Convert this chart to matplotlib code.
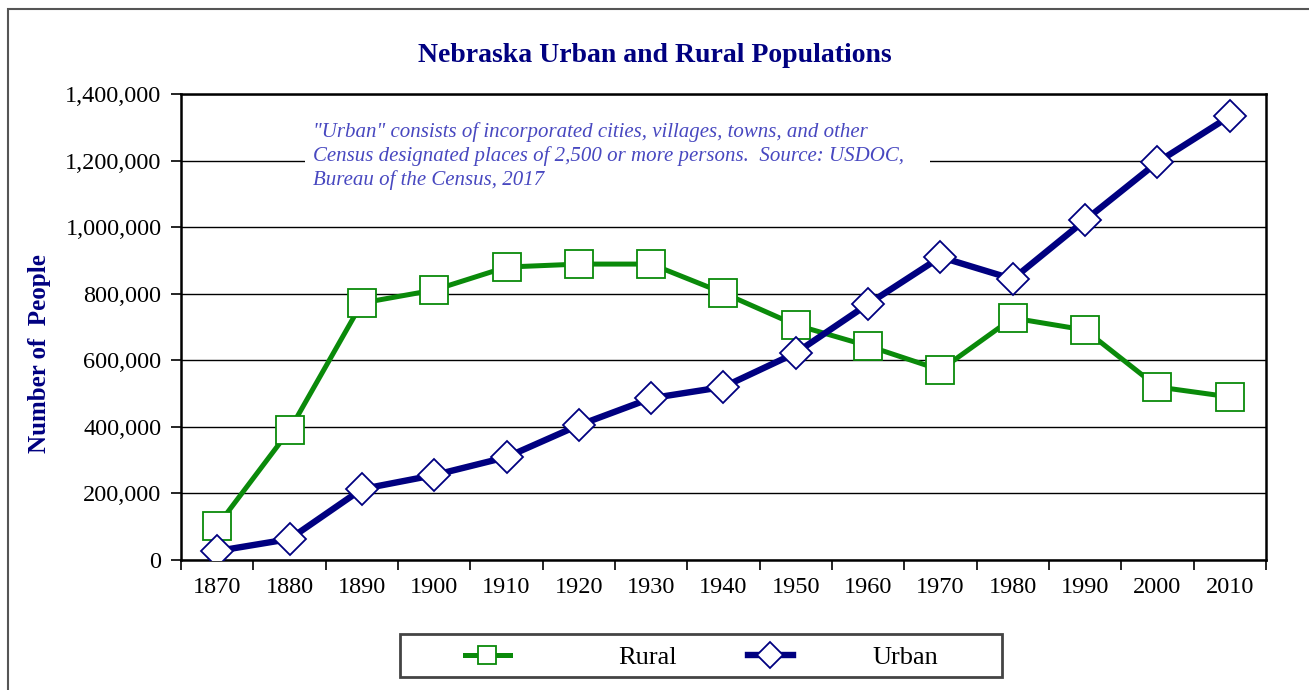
import numpy as np
import matplotlib.pyplot as plt
from matplotlib.patches import Rectangle

# Nebraska population by census year
years = ['1870', '1880', '1890', '1900', '1910', '1920', '1930', '1940',
         '1950', '1960', '1970', '1980', '1990', '2000', '2010']
rural = [102000, 390000, 772000, 811000, 880000, 889000, 889000, 802000,
         706000, 643000, 571000, 727000, 691000, 520000, 490000]
urban = [27000, 63000, 213000, 255000, 309000, 405000, 486000, 520000,
         622000, 769000, 910000, 844000, 1021000, 1195000, 1333000]
y_ticks = [0, 200000, 400000, 600000, 800000, 1000000, 1200000, 1400000]

note = ('"Urban" consists of incorporated cities, villages, towns, and other\n'
        'Census designated places of 2,500 or more persons.  Source: USDOC,\n'
        'Bureau of the Census, 2017')

GREEN = '#0a8a0a'
NAVY = '#000080'

plt.rcParams['font.family'] = ['Liberation Serif', 'DejaVu Serif']

fig = plt.figure(figsize=(13.09, 6.9), dpi=100)
ax = fig.add_axes([0.1383, 0.1884, 0.8288, 0.6754])

x = np.arange(len(years))

# outer frame of the page (runs off the right and bottom edges)
fig.patches.append(Rectangle((8 / 1309, -0.2), 1.2, 1.2 - 9 / 690,
                             transform=fig.transFigure, fill=False,
                             edgecolor='#555555', linewidth=1.5))

l_rural, = ax.plot(x, rural, color=GREEN, linewidth=3.6, marker='s', markersize=19.5,
                   markerfacecolor='white', markeredgecolor=GREEN, markeredgewidth=1.3,
                   label='Rural', zorder=4)
l_urban, = ax.plot(x, urban, color=NAVY, linewidth=4.6, marker='D', markersize=16.5,
                   markerfacecolor='white', markeredgecolor=NAVY, markeredgewidth=1.3,
                   label='Urban', zorder=5)

ax.set_xlim(-0.5, len(years) - 0.5)
ax.set_ylim(0, 1400000)
ax.set_yticks(y_ticks)
ax.set_yticklabels(['{:,}'.format(v) for v in y_ticks], fontsize=17.5)
ax.set_xticks(x)
ax.set_xticklabels(years, fontsize=17.5)
ax.set_xticks(np.arange(len(years) + 1) - 0.5, minor=True)
ax.tick_params(axis='x', which='major', length=0, pad=12)
ax.tick_params(axis='x', which='minor', length=7, width=1.2, direction='out')
ax.tick_params(axis='y', length=7, width=1.2, direction='out', pad=7)

ax.yaxis.grid(True, color='black', linewidth=1.0)
ax.set_axisbelow(True)
for s in ax.spines.values():
    s.set_linewidth(1.8)
    s.set_color('black')

# note box hides part of the 1,200,000 gridline
ax.add_patch(Rectangle((0.1143, 0.79), 0.576, 0.155, transform=ax.transAxes,
                       facecolor='white', edgecolor='none', zorder=2))
ax.text(0.1217, 0.94, note, transform=ax.transAxes, ha='left', va='top',
        fontsize=15, style='italic', color='#4848c0', linespacing=1.28,
        zorder=3)

fig.text(655 / 1309, 1 - 56 / 690, 'Nebraska Urban and Rural Populations',
         ha='center', va='center', fontsize=20, fontweight='bold', color=NAVY)
ax.set_ylabel('Number of  People', fontsize=18, fontweight='bold', color=NAVY)
ax.yaxis.set_label_coords(-0.12, 0.442)

# legend box drawn separately, one legend per entry to match the spacing
fig.patches.append(Rectangle((400 / 1309, 1 - 677 / 690), 602 / 1309, 43 / 690,
                             transform=fig.transFigure, facecolor='white',
                             edgecolor='#444444', linewidth=2))
leg_y = 1 - 657 / 690
for line, x0, pad in [(l_rural, 465, 4.1), (l_urban, 748, 3.0)]:
    leg = fig.legend(handles=[line], loc='center left',
                     bbox_to_anchor=(x0 / 1309, leg_y), fontsize=19,
                     frameon=False, handlelength=1.7, handletextpad=pad,
                     borderpad=0, borderaxespad=0)
    for h in leg.legend_handles:
        h.set_markersize(13)

fig.savefig('out.png', dpi=100)
